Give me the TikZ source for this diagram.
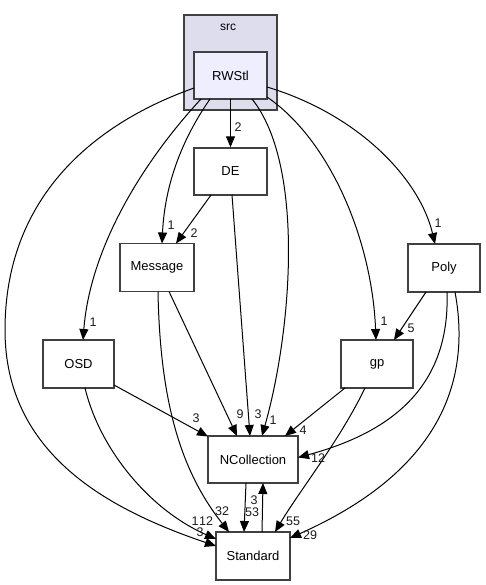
\documentclass[tikz,border=0pt]{standalone}
\usepackage{fontspec}
\setmainfont{Liberation Sans}
\usetikzlibrary{calc,arrows.meta}
\definecolor{boxline}{HTML}{404040}
\definecolor{clusterfill}{HTML}{DDDDEE}
\definecolor{rwfill}{HTML}{EEEEFF}
\definecolor{lblcol}{HTML}{1A1A1A}
\begin{document}
\begin{tikzpicture}[x=1pt,y=-1pt,
  box/.style={draw=boxline,line width=1.4pt,fill=white,minimum width=72pt,minimum height=48pt,inner sep=0pt,font=\fontsize{13}{15}\selectfont},
  dep/.style={draw=black,line width=1pt,-{Triangle[length=11pt,width=9pt]}},
  lbl/.style={font=\fontsize{12.5}{14}\selectfont,inner sep=0pt,text=lblcol}]
\useasboundingbox (0,0) rectangle (485,585);
% cluster
\node[draw=boxline,line width=1.4pt,fill=clusterfill,minimum width=93pt,minimum height=95pt,inner sep=0pt] (src) at (230.5,62.5) {};
\node[font=\fontsize{12}{14}\selectfont,inner sep=0pt] (srclbl) at (228,27) {src};
% nodes
\node[box,fill=rwfill,minimum width=73pt,minimum height=47pt] (rw) at (230.5,75.5) {RWStl};
\node[box,minimum width=73pt,minimum height=47pt] (de) at (230.5,171.5) {DE};
\node[box,minimum width=74pt] (msg) at (157,267.5) {Message};
\node[box,minimum width=71pt] (osd) at (78.5,364) {OSD};
\node[box] (poly) at (444,268) {Poly};
\node[box] (gp) at (377,364) {gp};
\node[box,minimum width=90pt,minimum height=47pt] (nc) at (253,459.5) {NCollection};
\node[box,minimum width=74pt] (std) at (253,556) {Standard};
% edges
\draw[dep] ($(rw)+(0,23.5)$) -- (de.north);
\node[lbl] (l1) at (238,127) {2};
\draw[dep] ($(rw)+(-20.5,23.5)$) .. controls (185,135) and (165,180) .. ($(msg)+(5,-24)$);
\node[lbl] (l2) at (171,225) {1};
\draw[dep] ($(de)+(-19.5,23.5)$) -- ($(msg)+(19,-24)$);
\node[lbl] (l3) at (194,233) {2};
\draw[dep] ($(rw)+(-29.5,23.5)$) .. controls (140,165) and (90,250) .. ($(osd)+(4.5,-24)$);
\node[lbl] (l4) at (93,322) {1};
\draw[dep] ($(rw)+(-36.5,12.5)$) .. controls (90,125) and (5,200) .. (5,330) .. controls (5,455) and (110,510) .. ($(std)+(-37,-10)$);
\draw[dep] ($(osd)+(6.5,24)$) .. controls (100,450) and (150,510) .. ($(std)+(-37,-17)$);
\node[lbl] (l5) at (195,521) {1};
\node[lbl] (l6) at (206,521) {12};
\node[lbl] (l7) at (200,532) {3};
\draw[dep] ($(rw)+(21.5,23.5)$) .. controls (305,165) and (292,330) .. ($(nc)+(9,-23.5)$);
\node[lbl] (l8) at (273,420) {1};
\draw[dep] ($(rw)+(36.5,21.5)$) .. controls (330,140) and (372,240) .. ($(gp)+(-1,-24)$);
\node[lbl] (l9) at (384,321) {1};
\draw[dep] ($(rw)+(36.5,11.5)$) .. controls (360,115) and (420,180) .. ($(poly)+(-9,-24)$);
\node[lbl] (l10) at (438,223) {1};
\draw[dep] ($(poly)+(-18,24)$) -- ($(gp)+(17,-24)$);
\node[lbl] (l11) at (411,328) {5};
\draw[dep] ($(poly)+(3,24)$) .. controls (450,380) and (400,430) .. ($(nc)+(45,-2)$);
\node[lbl] (l12) at (318,458) {12};
\draw[dep] ($(poly)+(11,24)$) .. controls (475,400) and (420,480) .. ($(std)+(37,-18)$);
\node[lbl] (l13) at (310,535) {29};
\draw[dep] ($(gp)+(-32,24)$) -- ($(nc)+(32,-23.5)$);
\node[lbl] (l14) at (303,430) {4};
\draw[dep] ($(gp)+(-12,24)$) .. controls (340,440) and (300,490) .. ($(std)+(22,-24)$);
\node[lbl] (l15) at (293,521) {55};
\draw[dep] ($(nc)+(-7,23.5)$) -- ($(std)+(-9,-24)$);
\node[lbl] (l16) at (252,512) {53};
\draw[dep] ($(std)+(9,-24)$) -- ($(nc)+(10,23.5)$);
\node[lbl] (l17) at (254,500) {3};
\draw[dep] ($(osd)+(35.5,21)$) -- ($(nc)+(-45,-23)$);
\node[lbl] (l18) at (196,418) {3};
\draw[dep] ($(msg)+(12,24)$) -- ($(nc)+(-16,-23.5)$);
\node[lbl] (l19) at (240,414) {9};
\draw[dep] ($(de)+(1.5,23.5)$) -- ($(nc)+(-3,-23.5)$);
\node[lbl] (l20) at (258,414) {3};
\draw[dep] ($(msg)+(1,24)$) .. controls (160,400) and (180,470) .. ($(std)+(-24,-24)$);
\node[lbl] (l21) at (222,511) {32};
\end{tikzpicture}
\end{document}
